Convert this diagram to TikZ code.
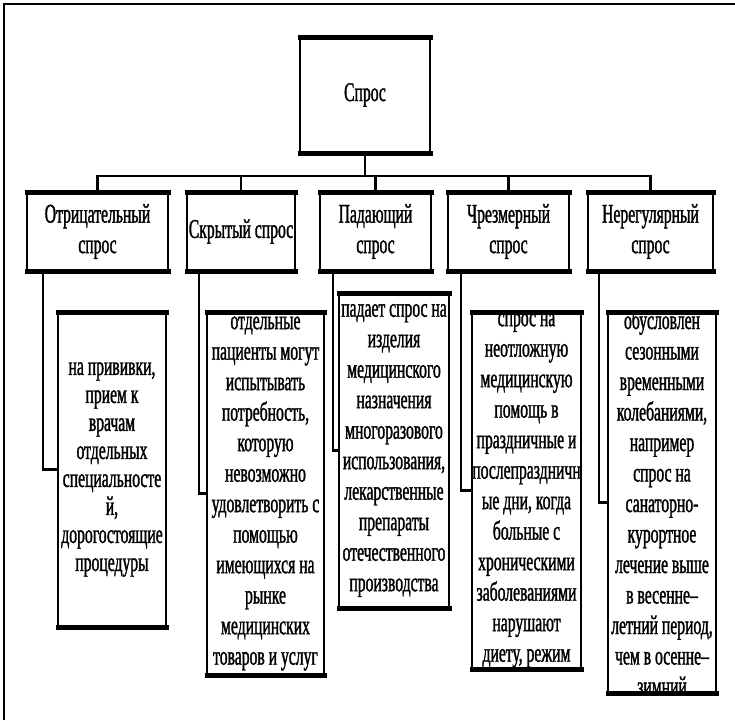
\documentclass[tikz,border=0pt]{standalone}
\usepackage{fontspec}
\usepackage{tikz}
\newfontfamily\narrowserif[FakeStretch=0.58,FakeBold=1.2]{Liberation Serif}
\newcommand{\boxfont}{\narrowserif\fontsize{27}{30.5}\selectfont}
\newcommand{\tightfont}{\narrowserif\fontsize{27}{28}\selectfont}

\begin{document}
\begin{tikzpicture}[x=1pt, y=-1pt,
		box/.style={draw, line width=2.8pt, outer sep=0pt, inner sep=0pt, align=center, font=\boxfont,
			append after command={(\tikzlastnode.north west) edge[draw, line width=5pt, line cap=rect] (\tikzlastnode.north east)
				(\tikzlastnode.south west) edge[draw, line width=5pt, line cap=rect] (\tikzlastnode.south east)}},
		kind/.style={box, minimum height=79pt},
		info/.style={align=center, font=\boxfont},
		detail/.style={box, path picture={\node[info] at (path picture bounding box.center) {#1};}},
		link/.style={line width=2.8pt}]
	\useasboundingbox (0,0) rectangle (735,720);
	\draw[line width=2.4pt] (4,720) -- (4,4) -- (735,4);
	\node[box, minimum width=130pt, minimum height=116pt] (root) at (365,95) {Спрос};
	\node[kind, minimum width=141pt] (neg) at (97.5,231.5) {Отрицательный\\спрос};
	\node[kind, minimum width=108pt] (hid) at (241,231.5) {Скрытый спрос};
	\node[kind, minimum width=111pt] (fall) at (375.5,231.5) {Падающий\\спрос};
	\node[kind, minimum width=121pt] (exc) at (508.5,231.5) {Чрезмерный\\спрос};
	\node[kind, minimum width=125pt] (irr) at (650.5,231.5) {Нерегулярный\\спрос};
	\node[detail={на прививки,\\прием к\\врачам\\отдельных\\специальносте\\й,\\дорогостоящие\\процедуры},
		info/.append style={font=\tightfont},
		minimum width=108pt, minimum height=315pt] (negd) at (112,469.5) {};
	\node[detail={отдельные\\пациенты могут\\испытывать\\потребность,\\которую\\невозможно\\удовлетворить с\\помощью\\имеющихся на\\рынке\\медицинских\\товаров и услуг},
		minimum width=117pt, minimum height=363pt] (hidd) at (265.5,493.5) {};
	\node[detail={падает спрос на\\изделия\\медицинского\\назначения\\многоразового\\использования,\\лекарственные\\препараты\\отечественного\\производства},
		minimum width=110pt, minimum height=315pt] (falld) at (394,450.5) {};
	\node[detail={спрос на\\неотложную\\медицинскую\\помощь в\\праздничные и\\послепраздничн\\ые дни, когда\\больные с\\хроническими\\заболеваниями\\нарушают\\диету, режим},
		minimum width=109pt, minimum height=357pt] (excd) at (526.5,490.5) {};
	\node[detail={обусловлен\\сезонными\\временными\\колебаниями,\\например\\спрос на\\санаторно-\\курортное\\лечение выше\\в весенне–\\летний период,\\чем в осенне–\\зимний},
		minimum width=108pt, minimum height=381pt] (irrd) at (662,502.5) {};
	\coordinate (bar) at (365,176);
	\draw[link] (root.south) -- (bar);
	\foreach \k in {neg,hid,fall,exc,irr}
		\draw[link] (bar) -| (\k.north);
	\draw[link] ([xshift=16pt]neg.south west) |- (negd.west);
	\draw[link] ([xshift=12pt]hid.south west) |- (hidd.west);
	\draw[link] ([xshift=13pt]fall.south west) |- (falld.west);
	\draw[link] ([xshift=13pt]exc.south west) |- (excd.west);
	\draw[link] ([xshift=11pt]irr.south west) |- (irrd.west);
\end{tikzpicture}
\end{document}
